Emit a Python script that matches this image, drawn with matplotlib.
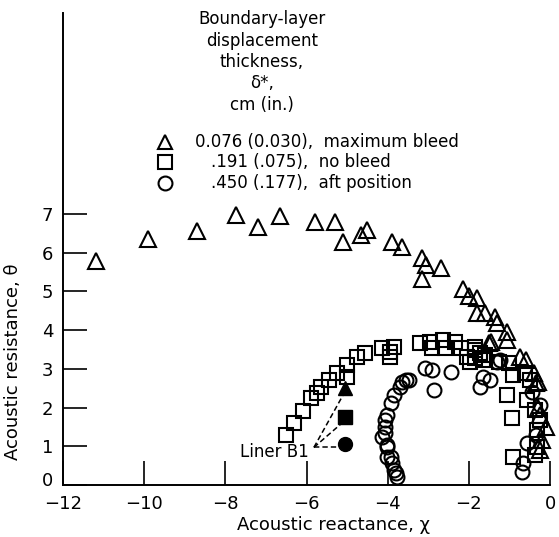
import matplotlib
matplotlib.use('Agg')
import matplotlib.pyplot as plt
import matplotlib.transforms as mtransforms

plt.rcParams['font.family'] = ['DejaVu Sans']

# Boundary-layer 0.076 cm (0.030 in.), maximum bleed
tri_x = [-11.2, -9.9, -8.7, -7.75, -7.2, -6.65, -5.8, -5.3, -5.1, -4.65, -4.5,
         -3.9, -3.65, -3.15, -3.05, -2.7, -3.15, -2.15, -2.0, -1.8, -1.8, -1.6,
         -1.35, -1.3, -1.05, -1.5, -1.45, -1.05, -0.75, -0.6, -0.4, -0.3, -0.35,
         -0.25, -0.1, -0.2, -0.25, -0.3]
tri_y = [5.8, 6.35, 6.55, 6.98, 6.67, 6.95, 6.8, 6.8, 6.28, 6.46, 6.59,
         6.28, 6.15, 5.87, 5.68, 5.61, 5.32, 5.06, 4.88, 4.83, 4.44, 4.44,
         4.34, 4.19, 3.95, 3.67, 3.7, 3.75, 3.31, 3.23, 2.89, 2.66, 2.64,
         1.81, 1.5, 1.16, 0.9, 2.0]

# .191 (.075), no bleed
sq_x = [-6.5, -6.3, -6.1, -5.9, -5.75, -5.65, -5.45, -5.25, -5.0, -5.0, -4.75,
        -4.55, -4.15, -3.95, -3.85, -3.95, -3.2, -2.97, -2.92, -2.65, -2.6,
        -2.35, -2.2, -2.05, -1.85, -1.98, -1.73, -1.65, -1.85, -1.85, -1.6,
        -1.25, -1.0, -0.92, -0.62, -0.5, -1.05, -0.95, -0.92, -0.57, -0.37,
        -0.32, -0.32, -0.25, -0.37]
sq_y = [1.3, 1.6, 1.9, 2.25, 2.38, 2.53, 2.71, 2.89, 3.1, 2.79, 3.31,
        3.41, 3.54, 3.44, 3.57, 3.31, 3.67, 3.7, 3.54, 3.75, 3.54,
        3.7, 3.54, 3.31, 3.49, 3.18, 3.41, 3.23, 3.57, 3.28, 3.36,
        3.18, 3.15, 2.84, 2.89, 2.71, 2.33, 1.73, 0.72, 2.2, 1.94,
        1.42, 0.98, 1.68, 0.78]

# .450 (.177), aft position
cir_x = [-3.54, -3.64, -3.71, -3.84, -3.91, -4.01, -4.08, -4.13, -4.01, -4.03,
         -3.89, -3.79, -3.76, -4.08, -4.01, -3.91, -3.84, -4.08, -3.47, -3.09,
         -2.9, -2.43, -2.85, -1.73, -1.49, -1.31, -1.66, -1.24, -0.57, -0.67,
         -0.69, -0.25, -0.45, -0.35]
cir_y = [2.71, 2.66, 2.53, 2.33, 2.12, 1.81, 1.5, 1.24, 0.98, 0.72,
         0.57, 0.31, 0.21, 1.34, 1.03, 0.72, 0.39, 1.68, 2.71, 3.02,
         2.97, 2.92, 2.45, 2.53, 2.71, 3.18, 2.79, 3.23, 1.09, 0.57,
         0.34, 2.07, 2.4, 1.3]

# Liner B1 (filled symbols: triangle, square, circle)
b1_x = [-5.05, -5.05, -5.05]
b1_y = [2.5, 1.75, 1.05]
b1_markers = ['^', 's', 'o']

x_ticks = [-12, -10, -8, -6, -4, -2, 0]
y_ticks = [0, 1, 2, 3, 4, 5, 6, 7]

fig = plt.figure(figsize=(5.59, 5.37), dpi=100)
ax = fig.add_axes([0.113, 0.097, 0.871, 0.879])

estilo = dict(linestyle='none', markerfacecolor='none', markeredgecolor='black',
              markeredgewidth=1.5, clip_on=False)
ax.plot(tri_x, tri_y, marker='^', markersize=11, **estilo)
ax.plot(sq_x, sq_y, marker='s', markersize=9.5, **estilo)
ax.plot(cir_x, cir_y, marker='o', markersize=10, **estilo)

for x, y, m in zip(b1_x, b1_y, b1_markers):
    ax.plot(x, y, marker=m, markersize=10, color='black', linestyle='none')
    ax.plot([-5.82, x], [0.97, y - 0.08], color='black', linestyle='--',
            linewidth=1.1, dashes=(3.5, 2))
ax.text(-5.95, 0.85, 'Liner B1', ha='right', va='center', fontsize=12)

# Leyenda escrita a mano como en el original
titulo = 'Boundary-layer\ndisplacement\nthickness,\n\u03b4*,\ncm (in.)'
fig.text(262 / 559, 1 - 10 / 537, titulo, ha='center', va='top', fontsize=12,
         linespacing=1.25)
filas = [('^', 142, 195, '0.076 (0.030),  maximum bleed'),
         ('s', 162, 211, '.191 (.075),  no bleed'),
         ('o', 183, 211, '.450 (.177),  aft position')]
for m, py, tx, txt in filas:
    ax.plot([165 / 559], [1 - py / 537], marker=m, markersize=10,
            markerfacecolor='none', markeredgecolor='black', markeredgewidth=1.5,
            transform=fig.transFigure, clip_on=False)
    fig.text(tx / 559, 1 - py / 537, txt, ha='left', va='center', fontsize=12)

ax.set_xlim(-12, 0)
ax.set_ylim(0, 12.2)
ax.set_xticks(x_ticks)
ax.set_xticklabels(['\u221212', '\u221210', '\u22128', '\u22126', '\u22124', '\u22122', '0'])
ax.set_yticks(y_ticks)
ax.tick_params(direction='in', length=17, width=1.2, labelsize=13)
ax.tick_params(axis='x', pad=7)
ax.tick_params(axis='y', pad=7)
for lado in ['top', 'right']:
    ax.spines[lado].set_visible(False)
for lado in ['left', 'bottom']:
    ax.spines[lado].set_linewidth(1.4)

# subir un poco el "0" del eje y para que no pise el "-12"
etiqueta_cero = ax.get_yticklabels()[0]
etiqueta_cero.set_transform(etiqueta_cero.get_transform() +
                            mtransforms.ScaledTranslation(0, 4 / 72, fig.dpi_scale_trans))

ax.set_xlabel('Acoustic reactance, \u03c7', fontsize=13)
ax.set_ylabel('Acoustic resistance, \u03b8', fontsize=13)
ax.xaxis.set_label_coords(0.555, -0.065)
ax.yaxis.set_label_coords(-0.085, 0.26)

fig.savefig('out.png', dpi=100)
